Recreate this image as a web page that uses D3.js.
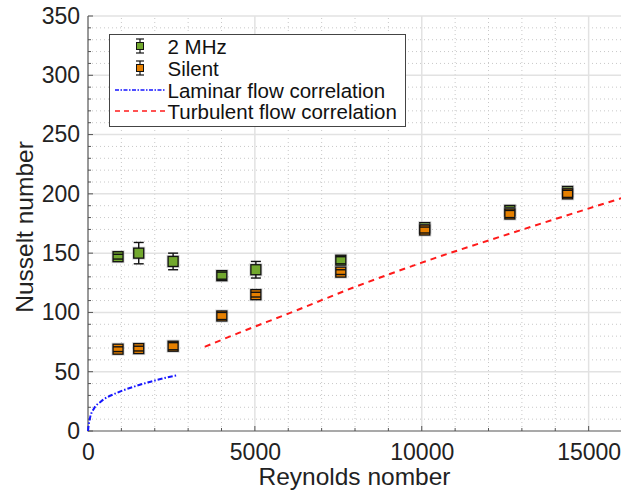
<!DOCTYPE html>
<html>
<head>
<meta charset="utf-8">
<script src="https://cdn.jsdelivr.net/npm/d3@7"></script>
<style>
  body { margin: 0; background: #fff; }
  svg { font-family: "Liberation Sans", Arial, sans-serif; }
</style>
</head>
<body>
<svg id="chart" width="621" height="493"></svg>
<script>
// data
var reynolds = [900, 1520, 2550, 4010, 5030, 7575, 10090, 12640, 14370];
var nuMHz = [147, 150, 143, 131, 136, 144, 171.5, 186, 202];
var errMHz = [2, 9, 7, 3, 7, 3, 2.5, 2.5, 2.5];
var nuSilent = [69, 69.5, 71.5, 97, 115, 134, 169.5, 183, 200];
var errSilent = [2, 2, 3, 3, 2, 2, 2.5, 3, 3];

var laminarRe = [0, 20, 60, 180, 380, 877, 1377, 1876, 2575, 2700];
var laminarNu = [0, 5, 11, 19, 24.7, 32.3, 37.4, 41.6, 46.4, 47];

var turbRe = [3500, 4500, 6000, 8000, 10000, 12700, 16000];
var turbNu = [71, 82.5, 99, 121.5, 142, 167, 196.5];

var xMajor = [0, 5000, 10000, 15000];
var yMajor = [0, 50, 100, 150, 200, 250, 300, 350];

var greenFill = "#72a82e", orangeFill = "#e68000";

var svg = d3.select("#chart");
var x = d3.scaleLinear().domain([0, 16000]).range([88, 622]);
var y = d3.scaleLinear().domain([0, 350]).range([431, 16]);

var grid = svg.append("g");
// minor grid
grid.selectAll(".mx").data(d3.range(1000, 16001, 1000).filter(function(d) { return d % 5000 != 0; }))
    .enter().append("line")
    .attr("x1", function(d) { return x(d); }).attr("x2", function(d) { return x(d); })
    .attr("y1", y(0)).attr("y2", y(350))
    .attr("stroke", "#c8c8c8").attr("stroke-width", 1).attr("stroke-dasharray", "1,3");
grid.selectAll(".my").data(d3.range(10, 351, 10).filter(function(d) { return d % 50 != 0; }))
    .enter().append("line")
    .attr("y1", function(d) { return y(d); }).attr("y2", function(d) { return y(d); })
    .attr("x1", x(0)).attr("x2", x(16000))
    .attr("stroke", "#c8c8c8").attr("stroke-width", 1).attr("stroke-dasharray", "1,3");
// major grid
grid.selectAll(".Mx").data(xMajor.slice(1))
    .enter().append("line")
    .attr("x1", function(d) { return x(d); }).attr("x2", function(d) { return x(d); })
    .attr("y1", y(0)).attr("y2", y(350))
    .attr("stroke", "#e2e2e2").attr("stroke-width", 1.5);
grid.selectAll(".My").data(yMajor.slice(1))
    .enter().append("line")
    .attr("y1", function(d) { return y(d); }).attr("y2", function(d) { return y(d); })
    .attr("x1", x(0)).attr("x2", x(16000))
    .attr("stroke", "#e2e2e2").attr("stroke-width", 1.5);

// axes
var xAxis = d3.axisBottom(x).tickValues(xMajor).tickSize(0).tickPadding(12.5).tickFormat(d3.format("d"));
var yAxis = d3.axisLeft(y).tickValues(yMajor).tickSize(0).tickPadding(8);
var gx = svg.append("g").attr("transform", "translate(0," + y(0) + ")").call(xAxis);
var gy = svg.append("g").attr("transform", "translate(" + x(0) + ",0)").call(yAxis);
[gx, gy].forEach(function(g) {
    g.select(".domain").remove();
    g.selectAll("text").attr("font-size", 23).attr("fill", "#222")
        .attr("font-family", "Liberation Sans, Arial, sans-serif");
});

svg.append("line").attr("x1", x(0)).attr("x2", x(0)).attr("y1", y(0) + 0.5).attr("y2", y(350))
    .attr("stroke", "#555").attr("stroke-width", 1.2);
svg.append("line").attr("x1", x(0)).attr("x2", x(16000)).attr("y1", y(0)).attr("y2", y(0))
    .attr("stroke", "#555").attr("stroke-width", 1.2);

// inward ticks
svg.selectAll(".tx").data(d3.range(0, 16001, 1000)).enter().append("line")
    .attr("x1", function(d) { return x(d); }).attr("x2", function(d) { return x(d); })
    .attr("y1", y(0)).attr("y2", function(d) { return y(0) - (d % 5000 == 0 ? 5 : 3); })
    .attr("stroke", "#555");
svg.selectAll(".ty").data(d3.range(0, 351, 10)).enter().append("line")
    .attr("y1", function(d) { return y(d); }).attr("y2", function(d) { return y(d); })
    .attr("x1", x(0)).attr("x2", function(d) { return x(0) + (d % 50 == 0 ? 5 : 3); })
    .attr("stroke", "#555");

// axis labels
svg.append("text").attr("x", 354.5).attr("y", 484.5)
    .attr("text-anchor", "middle").attr("font-size", 24.5).attr("fill", "#222")
    .text("Reynolds nomber");
svg.append("text").attr("transform", "translate(33,227) rotate(-90)")
    .attr("text-anchor", "middle").attr("font-size", 24.5).attr("fill", "#222")
    .text("Nusselt number");

// correlations
var line = d3.line().x(function(d) { return x(d[0]); }).y(function(d) { return y(d[1]); }).curve(d3.curveMonotoneX);
svg.append("path").datum(d3.zip(laminarRe, laminarNu)).attr("d", line)
    .attr("fill", "none").attr("stroke", "#1515ff").attr("stroke-width", 2)
    .attr("stroke-dasharray", "5,2,1.5,2");
svg.append("path").datum(d3.zip(turbRe, turbNu)).attr("d", line)
    .attr("fill", "none").attr("stroke", "#ff1a1a").attr("stroke-width", 2)
    .attr("stroke-dasharray", "6,5");

// error bars with square markers
function drawSeries(vals, errs, fill) {
    var g = svg.append("g");
    var pts = reynolds.map(function(r, i) { return { r: r, v: vals[i], e: errs[i] }; });
    var grp = g.selectAll("g").data(pts).enter().append("g");
    grp.append("rect")
        .attr("x", function(d) { return x(d.r) - 6.5; }).attr("y", function(d) { return y(d.v) - 6.5; })
        .attr("width", 13).attr("height", 13).attr("fill", "#aaa").attr("opacity", 0.5);
    grp.append("line")
        .attr("x1", function(d) { return x(d.r); }).attr("x2", function(d) { return x(d.r); })
        .attr("y1", function(d) { return y(d.v - d.e); }).attr("y2", function(d) { return y(d.v + d.e); })
        .attr("stroke", "#111").attr("stroke-width", 1.4);
    grp.append("rect")
        .attr("x", function(d) { return x(d.r) - 5; }).attr("y", function(d) { return y(d.v) - 5; })
        .attr("width", 10).attr("height", 10).attr("fill", fill)
        .attr("stroke", "#111").attr("stroke-width", 1.3);
    [-1, 1].forEach(function(s) {
        grp.append("line")
            .attr("x1", function(d) { return x(d.r) - 5; }).attr("x2", function(d) { return x(d.r) + 5; })
            .attr("y1", function(d) { return y(d.v + s * d.e); }).attr("y2", function(d) { return y(d.v + s * d.e); })
            .attr("stroke", "#111").attr("stroke-width", 1.4);
    });
}
drawSeries(nuMHz, errMHz, greenFill);
drawSeries(nuSilent, errSilent, orangeFill);

// legend
var lg = svg.append("g");
lg.append("rect").attr("x", 109.5).attr("y", 34.5).attr("width", 296).attr("height", 92)
    .attr("fill", "#fff").attr("stroke", "#444").attr("stroke-width", 1);
var legendNames = ["2 MHz", "Silent", "Laminar flow correlation", "Turbulent flow correlation"];
var legendY = [46, 68, 90, 111];
legendNames.forEach(function(name, i) {
    var cy = legendY[i];
    if (i < 2) {
        lg.append("line").attr("x1", 140).attr("x2", 140).attr("y1", cy - 7).attr("y2", cy + 7)
            .attr("stroke", "#111").attr("stroke-width", 1.2);
        [-7, 7].forEach(function(o) {
            lg.append("line").attr("x1", 136).attr("x2", 144).attr("y1", cy + o).attr("y2", cy + o)
                .attr("stroke", "#111").attr("stroke-width", 1.2);
        });
        lg.append("rect").attr("x", 136.5).attr("y", cy - 3.5).attr("width", 7).attr("height", 7)
            .attr("fill", i == 0 ? greenFill : orangeFill).attr("stroke", "#111").attr("stroke-width", 1);
    } else {
        lg.append("line").attr("x1", 115).attr("x2", 165).attr("y1", cy).attr("y2", cy)
            .attr("stroke", i == 2 ? "#1515ff" : "#ff1a1a").attr("stroke-width", 1.6)
            .attr("stroke-dasharray", i == 2 ? "4,1.5,1.5,1.5" : "5,4");
    }
    lg.append("text").attr("x", 167.5).attr("y", cy + 7.5).attr("font-size", 20.5).attr("fill", "#111")
        .text(name);
});
</script>
</body>
</html>
